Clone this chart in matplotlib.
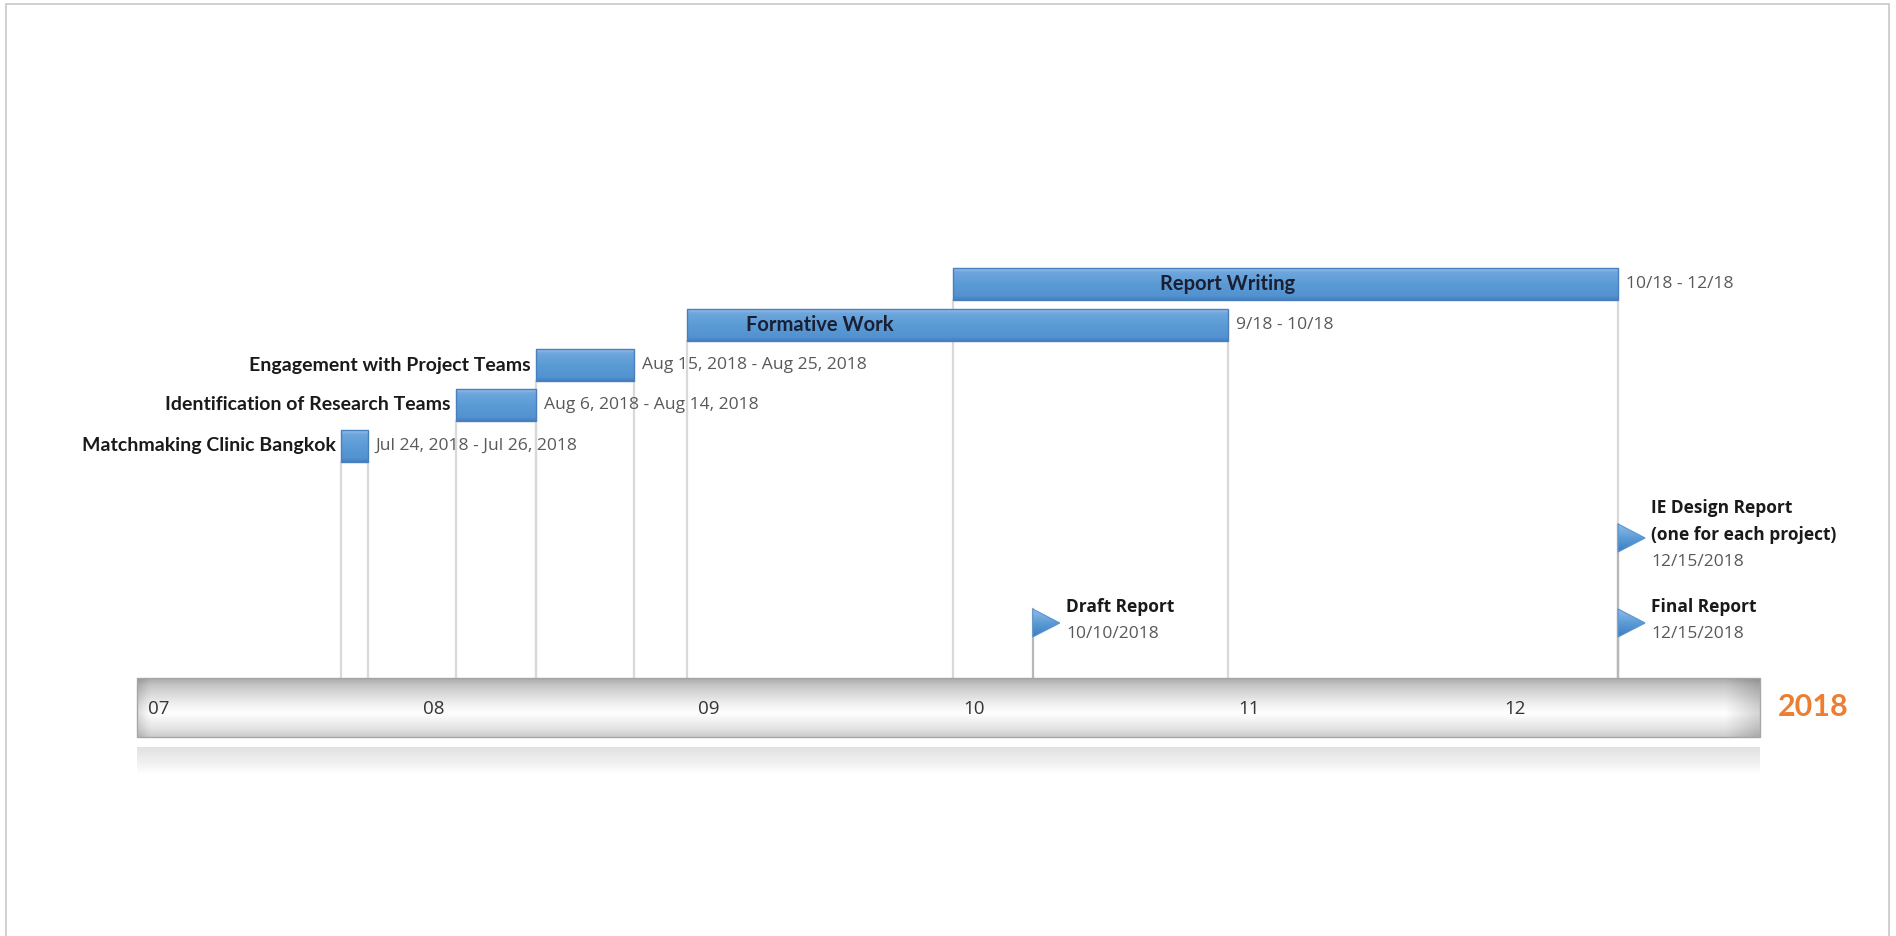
import numpy as np
import matplotlib
matplotlib.use('Agg')
import matplotlib.pyplot as plt
import matplotlib.dates as mdates
from matplotlib.patches import Polygon, Rectangle
from datetime import datetime

# 任务数据
tasks = ['Matchmaking Clinic Bangkok', 'Identification of Research Teams',
         'Engagement with Project Teams', 'Formative Work', 'Report Writing']
task_start = ['2018-07-24', '2018-08-06', '2018-08-15', '2018-09-01', '2018-10-01']
task_end = ['2018-07-26', '2018-08-14', '2018-08-25', '2018-10-31', '2018-12-14']
task_range = ['Jul 24, 2018 - Jul 26, 2018', 'Aug 6, 2018 - Aug 14, 2018',
              'Aug 15, 2018 - Aug 25, 2018', '9/18 - 10/18', '10/18 - 12/18']
label_inside = [False, False, False, True, True]
label_center = [None, None, None, '2018-09-16', '2018-11-01']

# 里程碑
milestones = ['Draft Report', 'IE Design Report\n(one for each project)', 'Final Report']
milestone_date = ['2018-10-10', '2018-12-15', '2018-12-15']
milestone_label = ['10/10/2018', '12/15/2018', '12/15/2018']

months = ['07', '08', '09', '10', '11', '12']
month_start = ['2018-07-01', '2018-08-01', '2018-09-01', '2018-10-01', '2018-11-01', '2018-12-01']
year_label = '2018'
axis_start = '2018-07-01'
axis_end = '2018-12-31'

BOLD = ['Lato', 'DejaVu Sans']
PLAIN = ['Open Sans', 'DejaVu Sans']

W, H = 1896, 936
fig = plt.figure(figsize=(W / 100, H / 100), dpi=100)
ax = fig.add_axes([0, 0, 1, 1])
ax.axis('off')

d = lambda s: mdates.date2num(datetime.strptime(s, '%Y-%m-%d'))

# 像素 -> 日期比例
x_left_px, x_right_px = 137, 1760
ppd = (x_right_px - x_left_px) / (d(axis_end) - d(axis_start))
x0 = d(axis_start) - x_left_px / ppd
x1 = x0 + W / ppd

def gradient(stops, n=64):
    pos = np.array([s[0] for s in stops])
    cols = np.array([matplotlib.colors.to_rgb(s[1]) for s in stops])
    t = np.linspace(0, 1, n)
    out = np.stack([np.interp(t, pos, cols[:, k]) for k in range(3)], axis=1)
    return out[:, None, :]

blue = gradient([(0, '#9cc3ec'), (0.12, '#6fa6dd'), (0.5, '#5b9bd5'), (0.88, '#5392d0'), (1, '#4580c0')])

row_y = [446, 405, 365, 325, 284]
bar_h = 32
tl_top, tl_bot = 678, 737

# 连接线
for i in range(len(tasks)):
    s = d(task_start[i])
    e = d(task_end[i]) + 1
    for xx in (s, e):
        ax.plot([xx, xx], [row_y[i] + bar_h / 2, tl_top], color='#d9d9d9', lw=1.6, zorder=1)

# 任务条
for i, name in enumerate(tasks):
    s = d(task_start[i])
    e = d(task_end[i]) + 1
    y = row_y[i]
    ax.imshow(blue, extent=(s, e, y + bar_h / 2, y - bar_h / 2), aspect='auto',
              origin='upper', zorder=3, interpolation='bilinear')
    ax.add_patch(Rectangle((s, y - bar_h / 2), e - s, bar_h, fill=False,
                           edgecolor='#4a7fbf', lw=1.0, zorder=4))
    if label_inside[i]:
        ax.text(d(label_center[i]), y, name, ha='center', va='center', fontsize=14.5,
                fontweight='bold', family=BOLD, color='#1a1f33', zorder=5)
    else:
        ax.annotate(name, (s, y), xytext=(-4, 0), textcoords='offset points', ha='right',
                    va='center', fontsize=14, fontweight='bold', family=BOLD, color='#1a1a1a')
    ax.annotate(task_range[i], (e, y), xytext=(6, 0), textcoords='offset points', ha='left',
                va='center', fontsize=12.6, family=PLAIN, color='#595959')

# 里程碑
flag_y = [623, 538, 623]
flag_w = 27 / ppd
flag_h = 28
for i, m in enumerate(milestones):
    x = d(milestone_date[i])
    fy = flag_y[i]
    ax.plot([x, x], [fy - flag_h / 2, tl_top], color='#b8b8b8', lw=1.6, zorder=2)
    tri = Polygon([(x, fy - flag_h / 2), (x, fy + flag_h / 2), (x + flag_w, fy)],
                  closed=True, facecolor='none', edgecolor='#5a94cf', lw=0.8, zorder=6)
    ax.add_patch(tri)
    im = ax.imshow(gradient([(0, '#8fbce9'), (0.5, '#5b9bd5'), (1, '#3e7dc2')]),
                   extent=(x, x + flag_w, fy + flag_h / 2, fy - flag_h / 2), aspect='auto',
                   origin='upper', zorder=5, interpolation='bilinear')
    im.set_clip_path(tri)
    lines = m.split('\n') + [milestone_label[i]]
    n = len(lines)
    for k, ln in enumerate(lines):
        off = (k - (n - 1) / 2) * 27 - 3
        last = k == n - 1
        ax.annotate(ln, (x, fy), xytext=(24, -off * 0.72), textcoords='offset points',
                    ha='left', va='center', fontsize=12.5,
                    fontweight='normal' if last else 'bold', family=PLAIN,
                    color='#595959' if last else '#1a1a1a', zorder=7)

# 时间轴
ts, te = d(axis_start), d(axis_end)
prof = gradient([(0, '#a9a9a9'), (0.12, '#c6c6c6'), (0.45, '#f2f2f2'), (0.6, '#ffffff'),
                 (0.85, '#e4e4e4'), (1, '#cccccc')], n=60)
tl_img = np.repeat(prof, 400, axis=1)
# 两端暗边
edge = np.ones(400)
edge[:3] = np.linspace(0.88, 0.97, 3)
edge[-8:] = np.linspace(0.98, 0.84, 8)
tl_img = tl_img * edge[None, :, None]
ax.imshow(tl_img, extent=(ts, te, tl_bot, tl_top), aspect='auto', origin='upper',
          zorder=3, interpolation='bilinear')
ax.add_patch(Rectangle((ts, tl_top), te - ts, tl_bot - tl_top, fill=False,
                       edgecolor='#a6a6a6', lw=1.0, zorder=4))
refl = gradient([(0, '#e2e2e2'), (0.5, '#eeeeee'), (1, '#ffffff')], n=40)
ax.imshow(np.repeat(refl, 10, axis=1), extent=(ts, te, 774, 747), aspect='auto',
          origin='upper', zorder=3, interpolation='bilinear')

for lab, ms in zip(months, month_start):
    ax.text(d(ms) + 1.2, (tl_top + tl_bot) / 2 + 2, lab, ha='left', va='center',
            fontsize=13.5, family=PLAIN, color='#333333', zorder=6)
ax.annotate(year_label, (te, (tl_top + tl_bot) / 2), xytext=(13, 0), textcoords='offset points',
            ha='left', va='center', fontsize=22, fontweight='bold', family=BOLD, color='#ed7d31')

ax.set_xlim(x0, x1)
ax.set_ylim(H, 0)

# 外框
fig.add_artist(Rectangle((6 / W, -0.01), (1889 - 6) / W, 1 - 4 / H + 0.01, transform=fig.transFigure,
                         fill=False, edgecolor='#c8c8c8', lw=1.2))

fig.savefig('out.png', dpi=100, facecolor='white')
